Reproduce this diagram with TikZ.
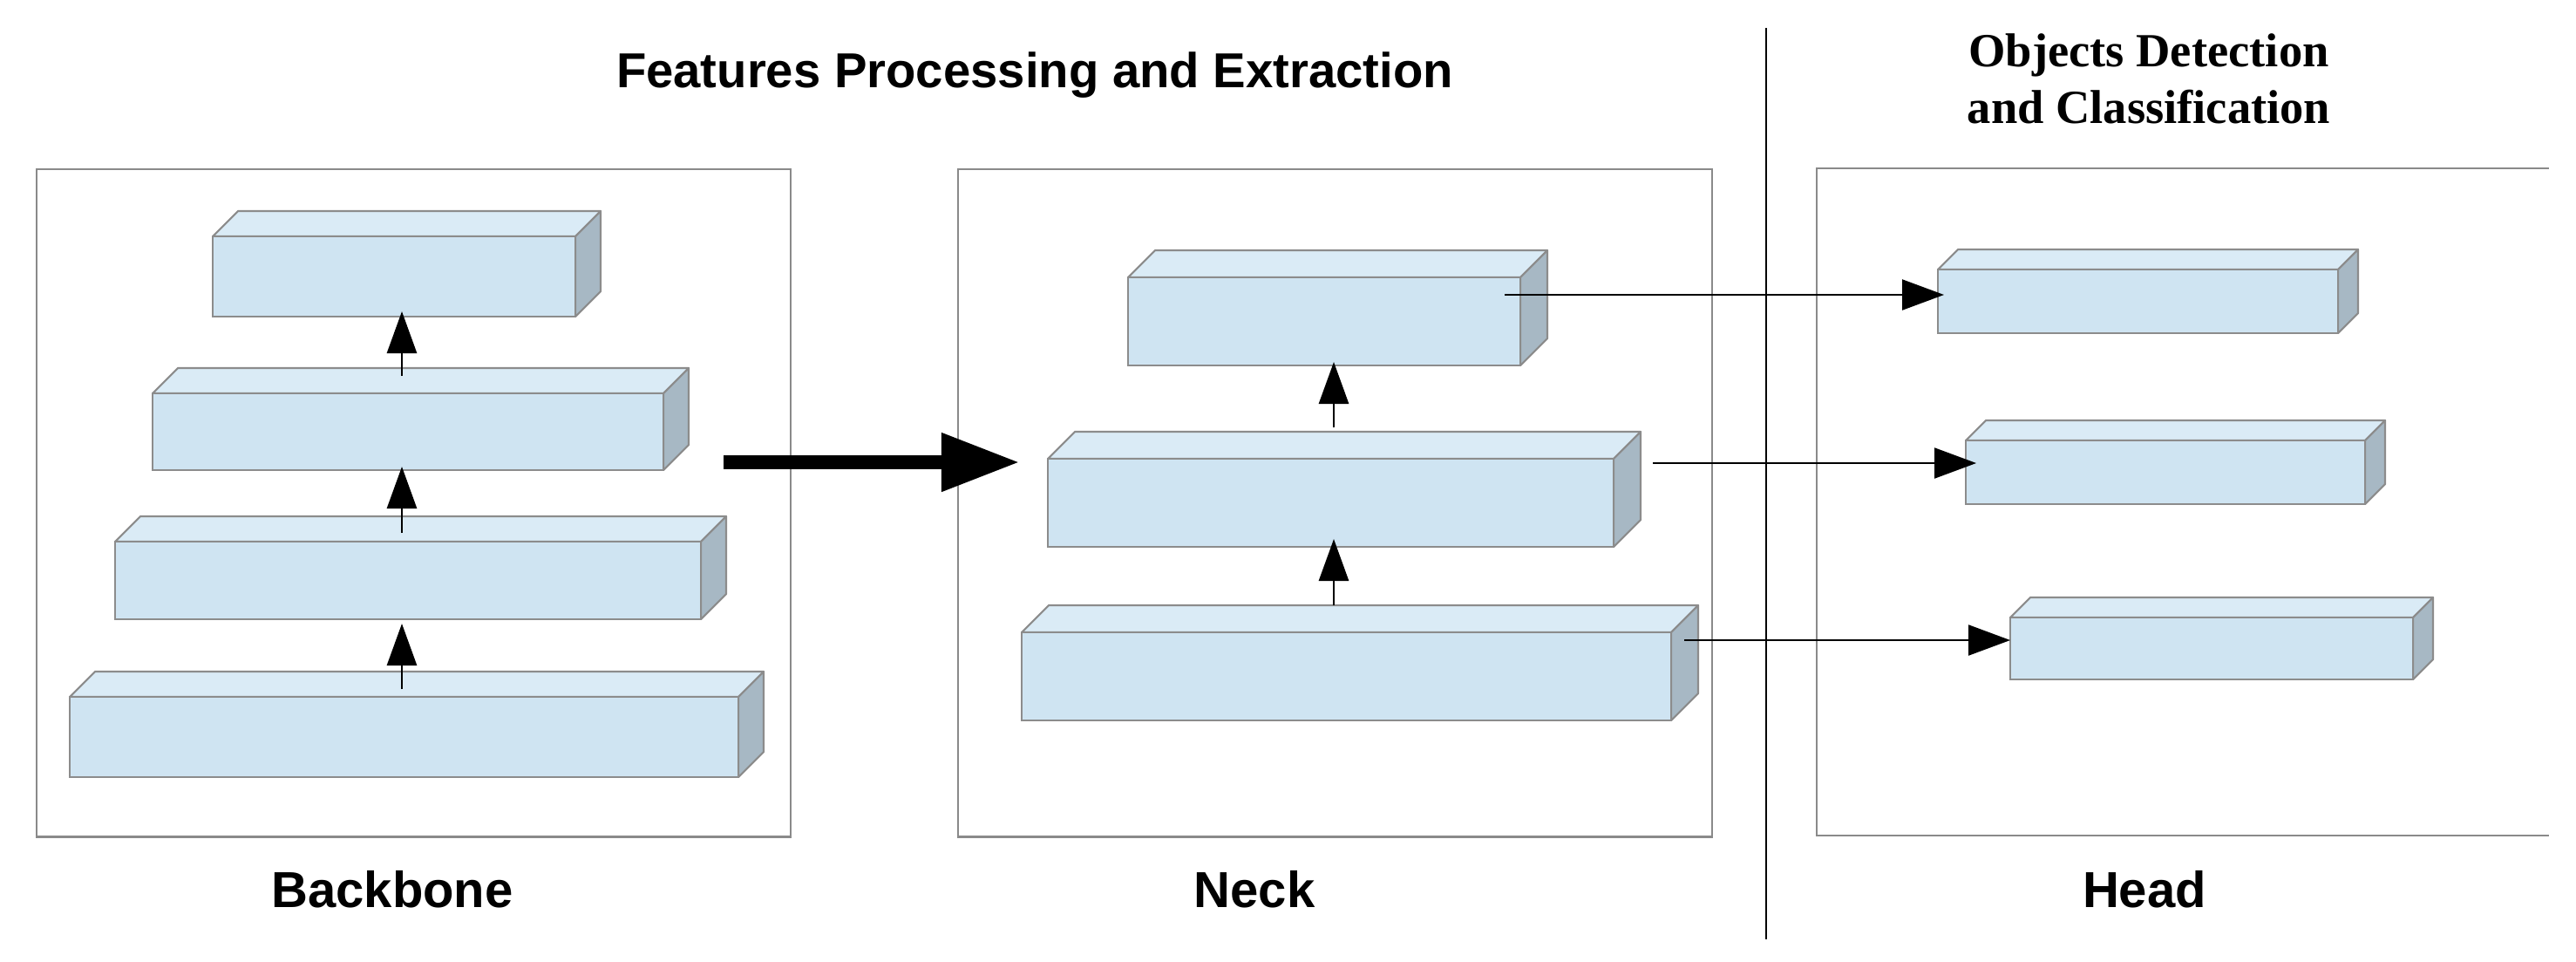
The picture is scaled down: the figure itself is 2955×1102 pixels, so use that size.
\documentclass[tikz,border=0pt]{standalone}
\usepackage{fontspec}
\setmainfont{Liberation Sans}
\newfontfamily\serifb{Liberation Serif}
\usetikzlibrary{arrows.meta}
\definecolor{frontc}{HTML}{CFE4F2}
\definecolor{topc}{HTML}{DAEBF6}
\definecolor{sidec}{HTML}{A7B8C4}
\definecolor{edgec}{HTML}{8C8C8C}
\definecolor{framec}{HTML}{8A8A8A}
\tikzset{
  frontface/.style={draw=edgec,fill=frontc,line width=0.6pt,inner sep=0pt,outer sep=0pt,anchor=north west},
  topface/.style={draw=edgec,fill=topc,line width=0.6pt,line join=round},
  sideface/.style={draw=edgec,fill=sidec,line width=0.6pt,line join=round},
  frame/.style={draw=framec,line width=0.6pt},
  uparr/.style={line width=0.8pt,-{Triangle[length=0.48cm,width=0.34cm]}},
  outarr/.style={line width=0.6pt,-{Triangle[length=0.48cm,width=0.35cm]}},
  lab/.style={font=\bfseries\fontsize{16.5}{18}\selectfont,anchor=base,inner sep=0pt},
}
% name, x1, y1, x2, y2, depth
\newcommand\mycuboid[6]{%
  \fill[topface] (#2,#3) -- ++(#6,-#6) -- (#4+#6,#3-#6) -- (#4,#3) -- cycle;
  \fill[sideface] (#4,#3) -- (#4+#6,#3-#6) -- (#4+#6,#5-#6) -- (#4,#5) -- cycle;
  \node[frontface,minimum width={(#4-#2)*0.01cm},minimum height={(#5-#3)*0.01cm}] (#1) at (#2,#3) {};
}
\begin{document}
\begin{tikzpicture}[x=0.01cm,y=-0.01cm]
\useasboundingbox (0,0) rectangle (2955,1102);
% titles
\node[font=\bfseries\fontsize{16}{18}\selectfont,anchor=base,inner sep=0pt] (t1) at (1187,100) {Features Processing and Extraction};
\node[font=\serifb\bfseries\fontsize{15.5}{18.5}\selectfont,align=center,anchor=north,inner sep=0pt] (t2) at (2465,38) {Objects Detection\\and Classification};
% separator
\coordinate (s1) at (2026,32); \coordinate (s2) at (2026,1077);
\draw[line width=0.6pt] (s1) -- (s2);
% frames
\node[frame,minimum width=8.64cm,minimum height=7.65cm,anchor=north west,inner sep=0pt] (bbf) at (41,193) {};
\node[frame,minimum width=8.64cm,minimum height=7.65cm,anchor=north west,inner sep=0pt] (nkf) at (1098,193) {};
\draw[frame] (2924,193) -- (2084,193) -- (2084,958) -- (2924,958);
% labels
\node[lab] (l1) at (450,1040) {Backbone};
\node[lab] (l2) at (1439,1040) {Neck};
\node[lab] (l3) at (2460,1040) {Head};
% backbone
\mycuboid{b1}{244}{271}{660}{363}{29}
\mycuboid{b2}{175}{451}{761}{539}{29}
\mycuboid{b3}{132}{621}{804}{710}{29}
\mycuboid{b4}{80}{799}{847}{891}{29}
\coordinate (ba1) at (461,431); \coordinate (ba1t) at (461,357);
\coordinate (ba2) at (461,611); \coordinate (ba2t) at (461,535);
\coordinate (ba3) at (461,790); \coordinate (ba3t) at (461,715);
\draw[uparr] (ba1) -- (ba1t);
\draw[uparr] (ba2) -- (ba2t);
\draw[uparr] (ba3) -- (ba3t);
% neck
\mycuboid{n1}{1294}{318}{1744}{419}{31}
\mycuboid{n2}{1202}{526}{1851}{627}{31}
\mycuboid{n3}{1172}{725}{1917}{826}{31}
\coordinate (na1) at (1530,490); \coordinate (na1t) at (1530,415);
\coordinate (na2) at (1530,694); \coordinate (na2t) at (1530,618);
\draw[uparr] (na1) -- (na1t);
\draw[uparr] (na2) -- (na2t);
% big arrow
\coordinate (bs) at (830,530); \coordinate (be) at (1170,530);
\draw[line width=4.8pt,-{Triangle[length=0.9cm,width=0.63cm]}] (bs) -- (be);
% head
\mycuboid{h1}{2223}{309}{2682}{382}{23}
\mycuboid{h2}{2255}{505}{2713}{578}{23}
\mycuboid{h3}{2306}{708}{2768}{779}{23}
\coordinate (o1) at (1726,338); \coordinate (o1t) at (2230,338);
\coordinate (o2) at (1896,531); \coordinate (o2t) at (2267,531);
\coordinate (o3) at (1932,734); \coordinate (o3t) at (2306,734);
\draw[outarr] (o1) -- (o1t);
\draw[outarr] (o2) -- (o2t);
\draw[outarr] (o3) -- (o3t);
\end{tikzpicture}
\end{document}
